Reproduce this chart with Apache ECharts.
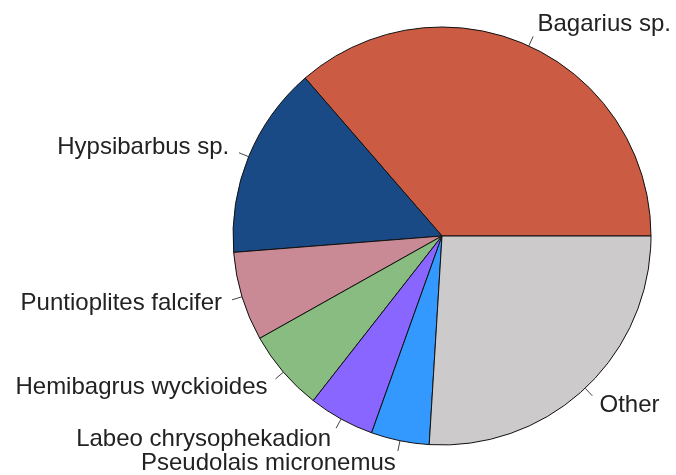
<!DOCTYPE html>
<html>
<head>
<meta charset="utf-8">
<script src="https://cdn.jsdelivr.net/npm/echarts@6/dist/echarts.min.js"></script>
<style>
  html, body { margin: 0; padding: 0; background: #fff; }
  #chart { width: 676px; height: 475px; }
</style>
</head>
<body>
<div id="chart"></div>
<script>
const species = ['Bagarius sp.', 'Hypsibarbus sp.', 'Puntioplites falcifer', 'Hemibagrus wyckioides',
  'Labeo chrysophekadion', 'Pseudolais micronemus', 'Other']
const shares = [36.4, 14.9, 6.9, 6.3, 5.1, 4.5, 26.0]
const colors = ['#CC5B43', '#1A4A86', '#C98A95', '#88BC80', '#8866FF', '#3399FF', '#CCCACA']

const radius = 209
const extra = radius * 0.05 // labels sit at 1.1r, line ends at 1.05r

const total = shares.reduce((a, b) => a + b, 0)
let acc = 0
const shifts = []
const data = species.map((name, i) => {
  const mid = (acc + shares[i] / 2) / total * Math.PI * 2
  acc += shares[i]
  const c = Math.cos(mid)
  const s = Math.sin(mid)
  shifts.push(-(extra + 2.5) * s)
  return {
    name,
    value: shares[i],
    itemStyle: { color: colors[i] },
    label: { padding: [0, c < 0 ? -extra * c : 0, 0, c > 0 ? extra * c : 0] }
  }
})

const chart = echarts.init(document.getElementById('chart'))
chart.setOption({
  animation: false,
  backgroundColor: '#fff',
  series: [{
    type: 'pie',
    center: [442, 236],
    radius: radius,
    startAngle: 0,
    clockwise: false,
    avoidLabelOverlap: false,
    data: data,
    itemStyle: { borderColor: '#111', borderWidth: 1 },
    label: {
      position: 'outside',
      fontFamily: 'Liberation Sans, Arial, sans-serif',
      fontSize: 24,
      color: '#222',
      distanceToLabelLine: 0,
      overflow: 'none'
    },
    labelLine: {
      show: true,
      length: extra,
      length2: 0,
      lineStyle: { color: '#444', width: 1 }
    },
    labelLayout: function (params) {
      return { dy: shifts[params.dataIndex] }
    },
    emphasis: { disabled: true }
  }]
})
</script>
</body>
</html>
